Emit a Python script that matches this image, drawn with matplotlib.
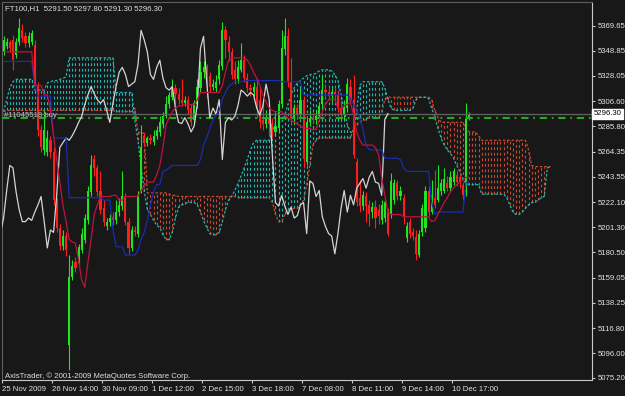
import numpy as np
import matplotlib
matplotlib.use("Agg")
import matplotlib.pyplot as plt
from matplotlib import transforms as mtrans

plt.rcParams['font.family'] = ['Liberation Sans', 'DejaVu Sans']

# ---- FT100 H1 candles ----
opens = [5348, 5353, 5356, 5358, 5345, 5356, 5366, 5361, 5355, 5356,
         5354, 5320, 5283, 5266, 5264, 5274, 5264, 5222, 5201, 5186,
         5194, 5103, 5160, 5172, 5171, 5182, 5191, 5207, 5231, 5258,
         5251, 5232, 5217, 5202, 5206, 5210, 5207, 5214, 5219, 5227,
         5206, 5184, 5199, 5196, 5232, 5278, 5272, 5276, 5273, 5278,
         5281, 5288, 5294, 5304, 5310, 5318, 5313, 5308, 5305, 5308,
         5301, 5291, 5304, 5318, 5331, 5335, 5328, 5319, 5318, 5325,
         5336, 5366, 5356, 5348, 5333, 5325, 5333, 5341, 5326, 5318,
         5314, 5319, 5308, 5291, 5288, 5293, 5288, 5281, 5284, 5304,
         5350, 5361, 5323, 5293, 5301, 5296, 5308, 5256, 5289, 5293,
         5291, 5294, 5304, 5316, 5314, 5311, 5314, 5312, 5301, 5295,
         5301, 5319, 5308, 5256, 5226, 5219, 5227, 5220, 5214, 5218,
         5216, 5207, 5209, 5214, 5212, 5224, 5238, 5227, 5226, 5192,
         5206, 5197, 5193, 5178, 5197, 5201, 5232, 5214, 5226, 5224,
         5232, 5232, 5238, 5234, 5239, 5245, 5243, 5237, 5231, 5291.5]
highs = [5361, 5360, 5358, 5362, 5360, 5376, 5371, 5365, 5365, 5366,
         5358, 5323, 5287, 5299, 5283, 5278, 5268, 5226, 5204, 5199,
         5197, 5178, 5174, 5176, 5187, 5201, 5212, 5236, 5262, 5262,
         5253, 5248, 5224, 5209, 5212, 5214, 5224, 5226, 5248, 5230,
         5209, 5202, 5202, 5232, 5287, 5280, 5278, 5279, 5283, 5286,
         5294, 5298, 5311, 5314, 5325, 5321, 5318, 5325, 5311, 5311,
         5304, 5308, 5325, 5340, 5340, 5338, 5331, 5325, 5329, 5341,
         5373, 5370, 5361, 5351, 5340, 5341, 5355, 5345, 5330, 5321,
         5323, 5326, 5318, 5308, 5299, 5298, 5293, 5298, 5308, 5366,
         5376, 5368, 5343, 5304, 5304, 5318, 5311, 5293, 5299, 5298,
         5299, 5306, 5328, 5321, 5319, 5318, 5319, 5316, 5308, 5308,
         5326, 5325, 5329, 5259, 5241, 5232, 5231, 5224, 5222, 5224,
         5221, 5224, 5226, 5217, 5247, 5242, 5241, 5236, 5229, 5206,
         5209, 5201, 5199, 5199, 5221, 5236, 5236, 5241, 5249, 5253,
         5242, 5251, 5244, 5248, 5251, 5249, 5246, 5239, 5305, 5297.8]
lows = [5345, 5350, 5348, 5333, 5343, 5354, 5356, 5352, 5352, 5354,
        5318, 5278, 5264, 5262, 5261, 5259, 5220, 5197, 5182, 5182,
        5177, 5082, 5157, 5164, 5169, 5180, 5188, 5204, 5227, 5244,
        5227, 5212, 5202, 5199, 5202, 5203, 5204, 5211, 5216, 5203,
        5179, 5181, 5194, 5193, 5230, 5269, 5269, 5271, 5270, 5275,
        5278, 5284, 5293, 5301, 5308, 5304, 5304, 5303, 5303, 5296,
        5286, 5288, 5301, 5314, 5326, 5309, 5314, 5316, 5314, 5321,
        5333, 5343, 5340, 5325, 5321, 5322, 5331, 5323, 5314, 5311,
        5311, 5293, 5284, 5283, 5284, 5278, 5276, 5278, 5281, 5301,
        5345, 5319, 5287, 5288, 5293, 5293, 5251, 5253, 5286, 5288,
        5288, 5291, 5301, 5309, 5308, 5306, 5308, 5298, 5293, 5291,
        5298, 5304, 5259, 5219, 5214, 5216, 5206, 5202, 5209, 5201,
        5204, 5204, 5206, 5194, 5209, 5221, 5224, 5224, 5204, 5189,
        5192, 5191, 5174, 5176, 5194, 5197, 5211, 5212, 5217, 5222,
        5228, 5230, 5232, 5232, 5237, 5236, 5234, 5224, 5227, 5291.3]
closes = [5358, 5356, 5351, 5341, 5356, 5368, 5360, 5355, 5361, 5364,
          5320, 5283, 5268, 5283, 5276, 5264, 5224, 5201, 5186, 5194,
          5182, 5160, 5169, 5167, 5185, 5196, 5209, 5232, 5253, 5251,
          5231, 5216, 5206, 5206, 5209, 5207, 5214, 5220, 5227, 5206,
          5184, 5199, 5197, 5228, 5268, 5272, 5276, 5274, 5278, 5283,
          5289, 5294, 5304, 5312, 5319, 5313, 5308, 5305, 5308, 5299,
          5289, 5305, 5319, 5331, 5335, 5329, 5319, 5321, 5323, 5337,
          5366, 5358, 5348, 5329, 5325, 5335, 5341, 5326, 5318, 5316,
          5319, 5301, 5289, 5288, 5293, 5288, 5281, 5286, 5304, 5351,
          5361, 5323, 5293, 5301, 5296, 5308, 5258, 5289, 5293, 5291,
          5294, 5303, 5316, 5314, 5311, 5314, 5312, 5301, 5295, 5303,
          5321, 5308, 5262, 5222, 5219, 5228, 5219, 5212, 5218, 5209,
          5211, 5220, 5222, 5196, 5240, 5238, 5227, 5232, 5210, 5202,
          5196, 5194, 5179, 5196, 5217, 5232, 5214, 5228, 5220, 5234,
          5238, 5242, 5234, 5243, 5248, 5239, 5238, 5228, 5291.5, 5296.3]

# ---- Ichimoku lines ----
tenkan = ([5348] * 10 + [5320] * 3 + [5312] * 2 +
          [5299, 5278, 5258, 5239, 5220, 5206, 5191, 5189, 5188, 5174,
           5157, 5151, 5172, 5191, 5212, 5220] +
          [5227] * 4 + [5228] * 2 + [5224] * 2 + [5227] * 5 +
          [5232, 5236] + [5239] * 3 +
          [5245, 5253, 5268, 5287, 5293, 5298, 5301] + [5303] * 2 + [5304] * 4 +
          [5308] + [5314] * 7 + [5320, 5331, 5341] + [5343] * 5 +
          [5341, 5337, 5331, 5326, 5320, 5312, 5306, 5301, 5299] + [5298] * 3 +
          [5295, 5293, 5291, 5289, 5288, 5286] + [5284] * 3 + [5283] * 2 +
          [5291, 5298, 5304] + [5308] * 3 +
          [5301, 5299, 5303, 5304, 5306, 5295, 5281, 5274] + [5270] * 4 +
          [5268, 5262, 5243, 5228, 5214] + [5212] * 4 + [5210] * 9 +
          [5206, 5207, 5212, 5217, 5222, 5226, 5231, 5234, 5237, 5239, 5241] +
          [5243] * 2)
kijun = ([5340] * 10 + [5320] + [5311] * 5 + [5276] * 5 + [5226] * 11 +
         [5224] * 3 + [5199] + [5185] * 3 + [5178] * 4 +
         [5182, 5191, 5197, 5207, 5220, 5231, 5237, 5237, 5248, 5249, 5251] +
         [5253] * 9 +
         [5258, 5270, 5276, 5284, 5291, 5295, 5299, 5308, 5314, 5319, 5321] +
         [5323] * 3 + [5324] * 12 + [5323] * 7 + [5312] * 15 +
         [5309, 5304, 5298, 5293, 5283, 5270] + [5266] * 5 + [5259] * 5 +
         [5258, 5251] + [5248] * 8 + [5222, 5212] + [5214] * 9 + [5239] * 2)
span_a = ([5298, 5308, 5318, 5323] + [5325] * 6 + [5316] * 4 +
          [5322, 5323, 5324, 5324, 5325, 5326, 5327] + [5343] * 15 + [5314] * 6 +
          [5291, 5274, 5253, 5232, 5216, 5212, 5207, 5203, 5201, 5195,
           5191, 5191, 5197, 5209, 5218, 5220, 5221, 5222, 5222, 5222,
           5220, 5214, 5207, 5201, 5196, 5195, 5195, 5197, 5206, 5216,
           5224, 5227, 5232, 5238, 5244, 5251, 5258, 5266, 5272] +
          [5274] * 5 +
          [5281, 5288, 5289, 5289, 5295, 5304, 5312, 5318, 5322, 5324,
           5326, 5328, 5329, 5329, 5330, 5332] + [5333] * 3 +
          [5332, 5329, 5324, 5312, 5299, 5287, 5281, 5280, 5299, 5320] +
          [5323] * 7 + [5318, 5308, 5301] + [5299] * 6 + [5301, 5308] +
          [5310] * 3 +
          [5309, 5301, 5293, 5284, 5276, 5270, 5266, 5263, 5259, 5253,
           5248, 5241, 5238] + [5237] * 4 + [5229] * 8 + [5226, 5220, 5214] +
          [5212] * 2 +
          [5214, 5217, 5220, 5222, 5222, 5224, 5226, 5227, 5251, 5252])
span_b = ([5298] + [5299] * 35 + [5298] * 6 + [5301, 5281] + [5280] * 2 +
          [5230] * 7 + [5229] + [5228] * 2 + [5227] * 19 + [5226] * 11 +
          [5222, 5212, 5206, 5206, 5212, 5216] + [5217] * 3 +
          [5220, 5224, 5237, 5253, 5270, 5274] + [5276] * 11 +
          [5284, 5287, 5289] + [5291] * 2 + [5293] * 4 + [5298, 5308] +
          [5310] * 14 + [5308, 5299, 5293] + [5289] * 8 + [5283] +
          [5281] * 3 + [5278] + [5274] * 15 + [5266, 5253] + [5252] * 6)
assert len(tenkan) == len(closes) == 150 and len(kijun) == 150
assert len(span_a) == len(span_b) == 176

tick_bars = [0, 16, 32, 48, 64, 80, 96, 112, 128, 144]
tick_labels = ["25 Nov 2009", "26 Nov 14:00", "30 Nov 09:00", "1 Dec 12:00",
               "2 Dec 15:00", "3 Dec 18:00", "7 Dec 08:00", "8 Dec 11:00",
               "9 Dec 14:00", "10 Dec 17:00"]
price_ticks = [5369.65, 5348.85, 5328.05, 5306.60, 5285.80, 5264.35, 5243.55,
               5222.10, 5201.30, 5180.50, 5159.05, 5138.25, 5116.80, 5096.00,
               5075.20]
header = "FT100,H1  5291.50 5297.80 5291.30 5296.30"
copyright_txt = "AxisTrader, \u00a9 2001-2009 MetaQuotes Software Corp."
bid = 5296.30
order_price = 5292.5
order_label = "#11045518 buy"
chikou_shift = 26

bg = '#181818'
bull, bear = '#1ee61e', '#ff1e1e'
cyan, rust = '#1fb8b4', '#cc4a32'

fig = plt.figure(figsize=(6.25, 3.96), dpi=100, facecolor=bg)
ax = fig.add_axes([2 / 625, 16 / 396, 590 / 625, 378 / 396], facecolor=bg)

o, h, l, c = map(np.asarray, (opens, highs, lows, closes))
xb = np.arange(len(c))
xc = np.arange(len(span_a))
sa, sb = np.asarray(span_a), np.asarray(span_b)

# cloud: dotted vertical hatch per bar, plus dotted span lines
hatch_cols = [cyan if a >= b else rust for a, b in zip(sa, sb)]
ax.vlines(xc, np.minimum(sa, sb), np.maximum(sa, sb), colors=hatch_cols,
          linestyles=(0, (2.5, 2.5)), lw=0.8, zorder=1)
ax.plot(xc, sb, color=rust, lw=0.9, ls=(0, (2, 1.5)), zorder=2)
ax.plot(xc, sa, color=cyan, lw=0.9, ls=(0, (2, 1.5)), zorder=2)

# candles
cols = np.where(c >= o, bull, bear)
ax.vlines(xb, l, h, colors=cols, lw=0.8, zorder=3)
body = np.maximum(np.abs(c - o), 0.8)
ax.bar(xb, body, bottom=np.minimum(o, c), width=0.68, color=cols,
       lw=0, zorder=3.1)

# bid and order lines
ax.axhline(bid, color='#5e5e5e', lw=1.0, zorder=3.5)
ax.axhline(order_price, color='#1fae1f', lw=1.5,
           ls=(0, (3.5, 2.3, 0.8, 2.3)), zorder=3.6)

# ichimoku lines
ax.plot(xb - chikou_shift, c, color='#d4d4d4', lw=0.9, zorder=4)
ax.plot(xb, kijun, color='#1a2cb0', lw=0.9, zorder=4.1)
ax.plot(xb, tenkan, color='#c0123e', lw=0.9, zorder=4.2)

ax.set_xlim(-0.48, 188.3)
ax.set_ylim(5073.5, 5389.7)

ax.set_xticks(np.array(tick_bars) - 0.5)
ax.set_xticklabels(tick_labels, ha='left')
ax.yaxis.tick_right()
ax.set_yticks(price_ticks)
ax.set_yticklabels(['%.2f' % p for p in price_ticks])
ax.tick_params(axis='both', colors='#c8c8c8', labelcolor='#e4e4e4',
               labelsize=5.6, length=2.5, width=0.8, pad=1.5)

for side in ['left', 'top']:
    ax.spines[side].set_color('#606060')
for side in ['right', 'bottom']:
    ax.spines[side].set_color('#c8c8c8')
for sp in ax.spines.values():
    sp.set_linewidth(0.8)

trans = mtrans.blended_transform_factory(ax.transAxes, ax.transData)
ax.text(1.003, bid, '%.2f' % bid, transform=trans, fontsize=5.6, color='black',
        va='center', ha='left', clip_on=False, zorder=10,
        bbox=dict(boxstyle='square,pad=0.2', fc='white', ec='white'))
ax.text(0.004, order_price + 2.2, order_label, transform=trans, fontsize=5.6,
        color='#bdbdbd', va='center', ha='left', zorder=6)
ax.text(0.005, 0.984, header, transform=ax.transAxes, fontsize=5.6,
        color='#e0e0e0', va='center', ha='left')
ax.text(0.005, 0.01, copyright_txt, transform=ax.transAxes, fontsize=5.6,
        color='#e0e0e0', va='center', ha='left')

fig.savefig('out.png', dpi=100, facecolor=bg)
